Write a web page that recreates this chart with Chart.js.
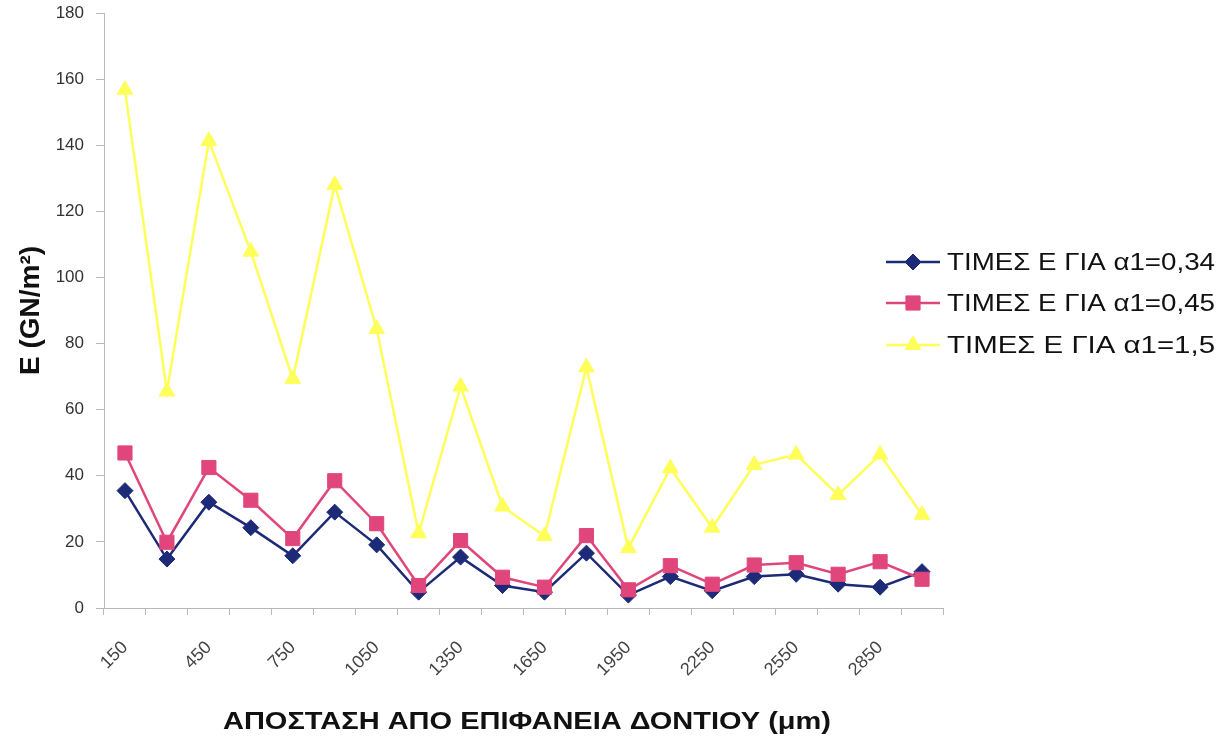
<!DOCTYPE html>
<html>
<head>
<meta charset="utf-8">
<style>
  html, body { margin: 0; padding: 0; background: #ffffff; }
  #wrap { position: relative; width: 1231px; height: 744px; }
</style>
<script src="https://cdn.jsdelivr.net/npm/chart.js@4/dist/chart.umd.min.js"></script>
</head>
<body>
<div id="wrap"><canvas id="chart" width="1231" height="744"></canvas></div>
<script>
// Distance from tooth surface (μm)
const distances = [150, 300, 450, 600, 750, 900, 1050, 1200, 1350, 1500,
                   1650, 1800, 1950, 2100, 2250, 2400, 2550, 2700, 2850, 3000];

// Modulus E (GN/m²) for each α1 value
const eA034 = [35.5, 14.8, 32.0, 24.3, 15.8, 29.0, 19.1, 4.8, 15.4, 6.8,
               4.8, 16.6, 3.9, 9.5, 5.2, 9.5, 10.2, 7.2, 6.3, 11.0];
const eA045 = [46.9, 19.9, 42.5, 32.6, 21.0, 38.5, 25.5, 6.8, 20.4, 9.3,
               6.3, 21.9, 5.5, 12.8, 7.2, 13.0, 13.7, 10.2, 14.0, 8.7];
const eA15  = [156.8, 65.5, 141.3, 107.8, 69.3, 128.0, 84.4, 22.6, 67.0, 30.7,
               21.8, 72.8, 18.1, 42.3, 24.3, 43.3, 46.4, 34.2, 46.4, 28.2];

const seriesNames = ['ΤΙΜΕΣ Ε ΓΙΑ α1=0,34', 'ΤΙΜΕΣ Ε ΓΙΑ α1=0,45', 'ΤΙΜΕΣ Ε ΓΙΑ α1=1,5'];
const xTitle = 'ΑΠΟΣΤΑΣΗ ΑΠΟ ΕΠΙΦΑΝΕΙΑ ΔΟΝΤΙΟΥ (μm)';
const yTitle = 'E (GN/m²)';
const yTicks = { min: 0, max: 180, step: 20 };

const NAVY = '#1c2a78';
const PINK = '#e0467c';
const YELLOW = '#ffff5a';
const FONT = '"Liberation Sans", Arial, sans-serif';

// Draw a text string stretched horizontally to a given width
function drawWideText(ctx, text, x, y, width, font, align) {
  ctx.save();
  ctx.font = font;
  const w = ctx.measureText(text).width;
  const k = width / w;
  ctx.textBaseline = 'middle';
  ctx.textAlign = 'left';
  const left = align === 'center' ? x - width / 2 : x;
  ctx.translate(left, y);
  ctx.scale(k, 1);
  ctx.fillText(text, 0, 0);
  ctx.restore();
}

// Legend drawn as line + marker, to the right of the plot; x-axis title below
const extras = {
  id: 'extras',
  afterDraw(chart) {
    const ctx = chart.ctx;
    const x0 = 886, x1 = 940, xm = 913, tx = 947;
    const rows = [262, 303, 345];
    chart.data.datasets.forEach((ds, i) => {
      const y = rows[i];
      ctx.save();
      ctx.strokeStyle = ds.borderColor;
      ctx.lineWidth = ds.borderWidth;
      ctx.beginPath();
      ctx.moveTo(x0, y);
      ctx.lineTo(x1, y);
      ctx.stroke();
      ctx.fillStyle = ds.pointBackgroundColor;
      ctx.strokeStyle = ds.pointBorderColor;
      ctx.lineWidth = 1;
      Chart.helpers.drawPoint(ctx, {
        pointStyle: ds.pointStyle,
        radius: ds.pointRadius,
        borderWidth: 1,
        rotation: 0
      }, xm, y);
      ctx.fillStyle = '#111111';
      drawWideText(ctx, ds.label, tx, y + 1, 268, '24px ' + FONT, 'left');
      ctx.restore();
    });
    ctx.save();
    ctx.fillStyle = '#111111';
    drawWideText(ctx, xTitle, 527, 723, 608, 'bold 23px ' + FONT, 'center');
    ctx.restore();
  }
};

const makeSet = (label, data, color, style, radius, order) => ({
  label,
  data,
  order,
  borderColor: color,
  backgroundColor: color,
  pointBackgroundColor: color,
  pointBorderColor: color,
  pointBorderWidth: 1,
  pointStyle: style,
  pointRadius: radius,
  pointHoverRadius: radius,
  borderWidth: 2.5,
  tension: 0,
  fill: false
});

new Chart(document.getElementById('chart'), {
  type: 'line',
  data: {
    labels: distances.map(String),
    datasets: [
      makeSet(seriesNames[0], eA034, NAVY, 'rectRot', 8, 3),
      makeSet(seriesNames[1], eA045, PINK, 'rect', 10, 2),
      makeSet(seriesNames[2], eA15, YELLOW, 'triangle', 9, 1)
    ]
  },
  options: {
    responsive: false,
    animation: false,
    devicePixelRatio: 1,
    layout: { padding: { left: 0, right: 288, top: 13, bottom: 0 } },
    plugins: {
      legend: { display: false },
      tooltip: { enabled: false }
    },
    scales: {
      x: {
        type: 'category',
        offset: true,
        afterFit(scale) { scale.height = 136; },
        border: { display: true, color: '#b8b8b8', width: 1 },
        grid: {
          offset: true,
          drawOnChartArea: false,
          drawTicks: true,
          tickLength: 7,
          color: '#b8b8b8'
        },
        ticks: {
          autoSkip: false,
          maxRotation: 45,
          minRotation: 45,
          padding: 22,
          color: '#444444',
          font: { family: FONT, size: 18 },
          callback(value, index) {
            return index % 2 === 0 ? this.getLabelForValue(value) : '';
          }
        },
        title: { display: false }
      },
      y: {
        min: yTicks.min,
        max: yTicks.max,
        afterFit(scale) {
          scale.width = 104;
          scale.paddingTop = 0;
          scale.paddingBottom = 0;
        },
        border: { display: true, color: '#b8b8b8', width: 1 },
        grid: {
          drawOnChartArea: false,
          drawTicks: true,
          tickLength: 8,
          color: '#b8b8b8'
        },
        ticks: {
          stepSize: yTicks.step,
          padding: 12,
          color: '#333333',
          font: { family: FONT, size: 17 }
        },
        title: {
          display: true,
          text: yTitle,
          color: '#111111',
          font: { family: FONT, size: 28, weight: 'bold' },
          padding: { top: 14, bottom: 0 }
        }
      }
    }
  },
  plugins: [extras]
});
</script>
</body>
</html>
